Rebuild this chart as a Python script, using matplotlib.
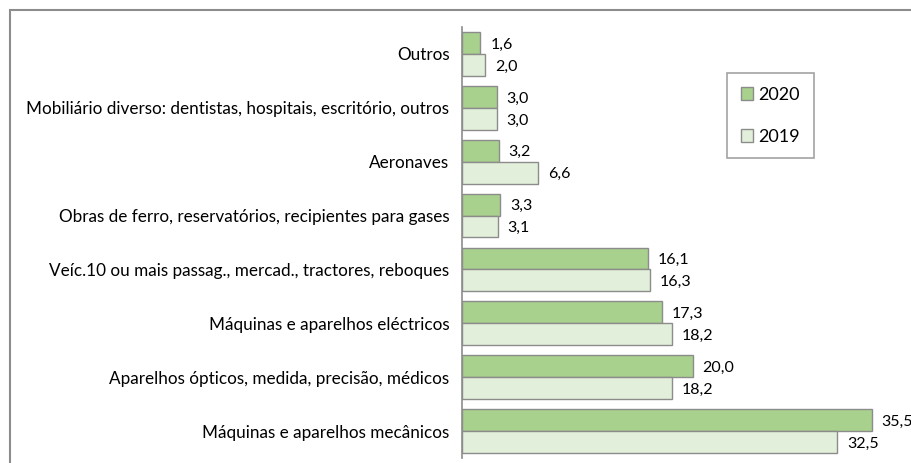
import numpy as np
import matplotlib.pyplot as plt
from matplotlib.patches import Rectangle

categories = [
    'Outros',
    'Mobiliário diverso: dentistas, hospitais, escritório, outros',
    'Aeronaves',
    'Obras de ferro, reservatórios, recipientes para gases',
    'Veíc.10 ou mais passag., mercad., tractores, reboques',
    'Máquinas e aparelhos eléctricos',
    'Aparelhos ópticos, medida, precisão, médicos',
    'Máquinas e aparelhos mecânicos',
]
v2020 = [1.6, 3.0, 3.2, 3.3, 16.1, 17.3, 20.0, 35.5]
v2019 = [2.0, 3.0, 6.6, 3.1, 16.3, 18.2, 18.2, 32.5]

c2020 = '#A9D18E'
c2019 = '#E2EFDA'
edge = '#8C8C8C'

plt.rcParams['font.family'] = ['Lato', 'DejaVu Sans']

fig = plt.figure(figsize=(9.11, 4.63), dpi=100)
# outer chart frame (only top and left edges fall inside the picture)
fig.patches.append(Rectangle((10 / 911, -0.5), 2, 0.5 + (463 - 10) / 463,
                             transform=fig.transFigure, fill=False,
                             edgecolor='#8C8C8C', linewidth=1.5))

ax = fig.add_axes([462 / 911, 5 / 463, 1 - 462 / 911, 431 / 463])

y = np.arange(len(categories))
h = 0.407
ax.barh(y - h / 2, v2020, height=h, color=c2020, edgecolor=edge, linewidth=1, label='2020')
ax.barh(y + h / 2, v2019, height=h, color=c2019, edgecolor=edge, linewidth=1, label='2019')

for i in range(len(categories)):
    ax.text(v2020[i] + 0.85, y[i] - h / 2 + 0.03, f'{v2020[i]:.1f}'.replace('.', ','),
            va='center', ha='left', fontsize=11.5, clip_on=False)
    ax.text(v2019[i] + 0.85, y[i] + h / 2 + 0.03, f'{v2019[i]:.1f}'.replace('.', ','),
            va='center', ha='left', fontsize=11.5, clip_on=False)

ax.set_ylim(len(categories) - 0.5, -0.5)
ax.set_xlim(0, 449 / 11.54)
ax.set_yticks(y)
ax.set_yticklabels(categories, fontsize=12.3)
ax.tick_params(axis='y', length=0, pad=9)
ax.set_xticks([])
for s in ['top', 'right', 'bottom']:
    ax.spines[s].set_visible(False)
ax.spines['left'].set_color(edge)
ax.spines['left'].set_linewidth(1.2)

leg = ax.legend(loc='upper left', bbox_to_anchor=((727 - 462) / 449, (458 - 73) / 431),
                fontsize=13, frameon=True, fancybox=False, handlelength=0.7,
                handleheight=0.7, handletextpad=0.3, labelspacing=1.45,
                borderpad=0.75, borderaxespad=0)
leg.get_frame().set_edgecolor('#8C8C8C')
leg.get_frame().set_linewidth(1.2)

fig.savefig('out.png', dpi=100)
